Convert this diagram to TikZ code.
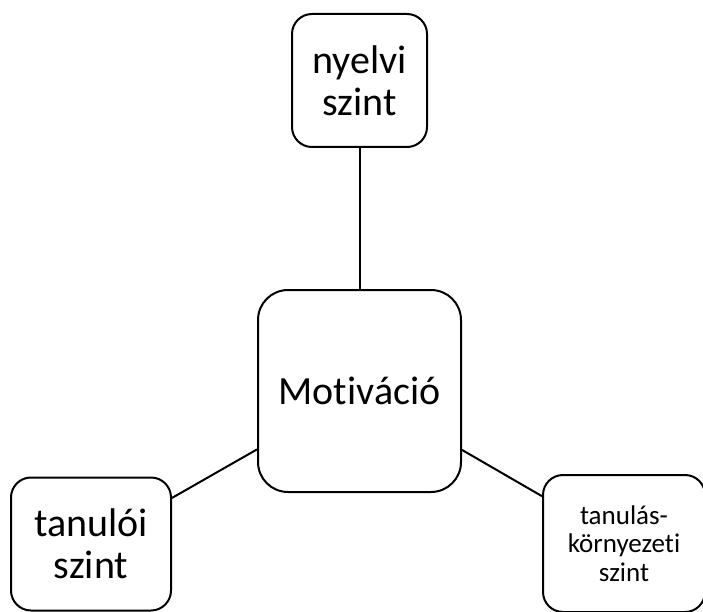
\documentclass[tikz,border=0pt]{standalone}
\usepackage{fontspec}
\setmainfont{Carlito}[Ligatures={NoCommon}]
\begin{document}
\begin{tikzpicture}[
          x=1pt, y=-1pt,
          every node/.style={draw, line width=2pt, align=center, inner sep=0pt},
          szint/.style={rounded corners=20pt, font=\fontsize{40}{42}\selectfont}]
            \clip (0,0) rectangle (703,612);

            \node[rounded corners=30pt, minimum width=203pt, minimum height=202pt,
                  font=\fontsize{40}{42}\selectfont] (mot) at (359.5,391) {Motiváció};

            \node[szint, minimum width=135pt, minimum height=133pt] (nyelvi) at (359.5,80.5) {nyelvi\\szint};
            \node[szint, minimum width=160pt, minimum height=133pt] (tanuloi) at (91,544) {tanulói\\szint};
            \node[szint, minimum width=162pt, minimum height=137pt,
                  font=\fontsize{27}{28.5}\selectfont] (kornyezet) at (624,543.5) {tanulás-\\környezeti\\szint};

            \foreach \p in {nyelvi, tanuloi, kornyezet}
              \draw[line width=2pt] (\p) -- (mot);
          \end{tikzpicture}
\end{document}
